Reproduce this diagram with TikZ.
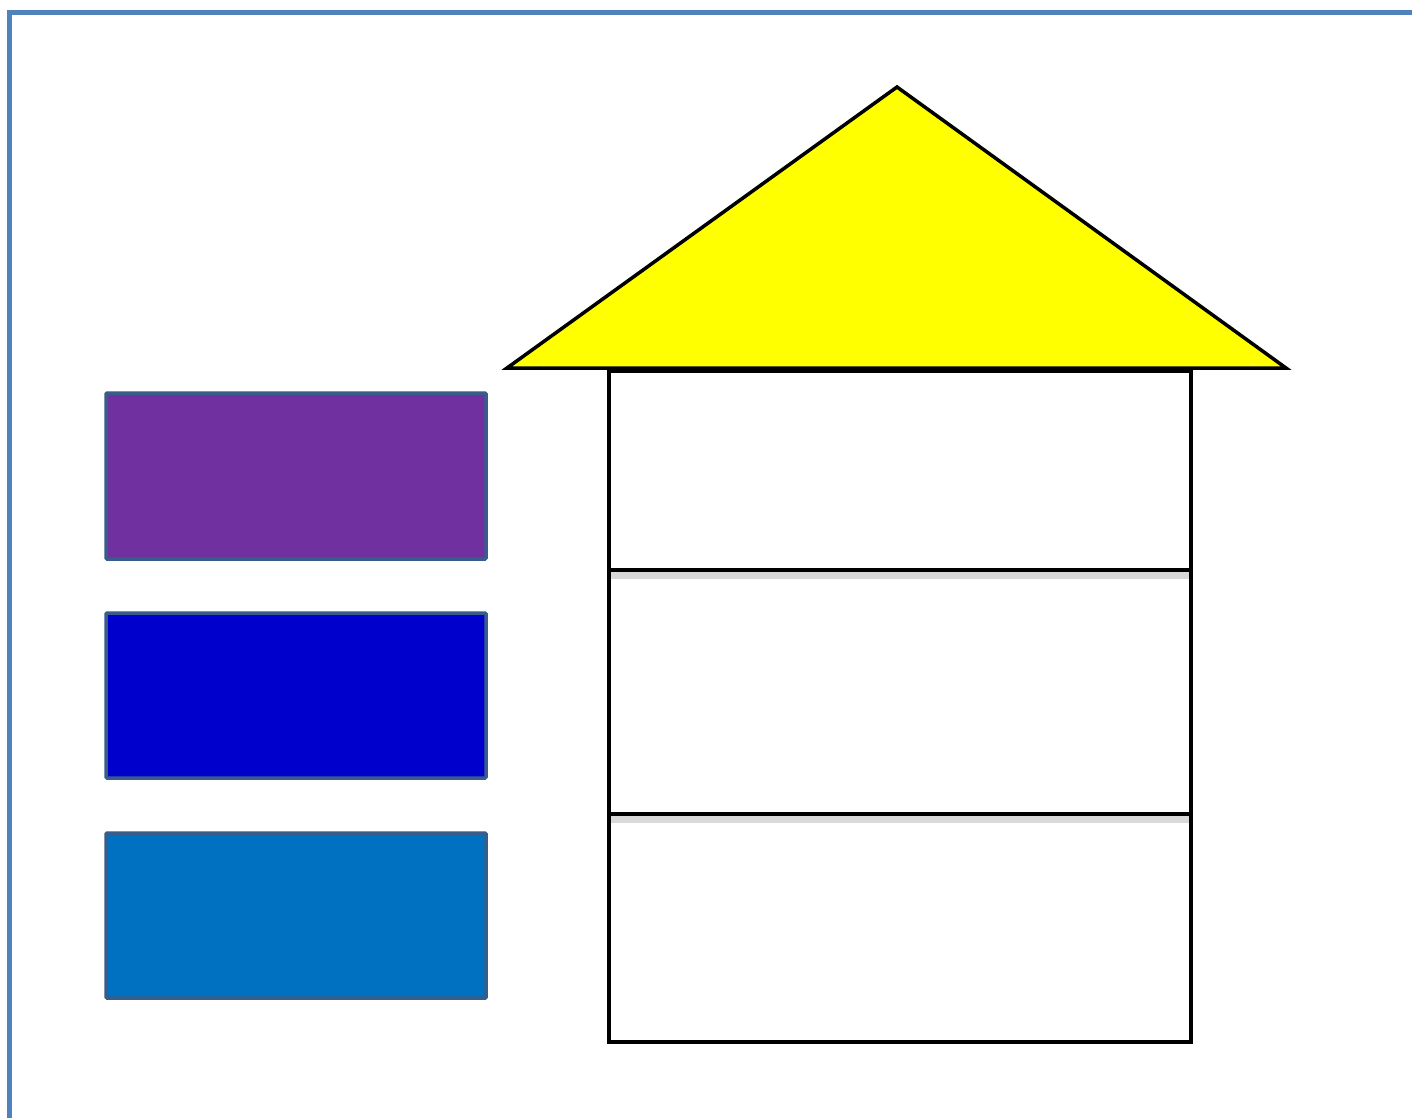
\documentclass[tikz,border=0pt]{standalone}
\begin{document}
\begin{tikzpicture}[x=1pt,y=-1pt,
  frame/.style={draw=frameblue,line width=5pt},
  roof/.style={draw=black,line width=3.5pt,fill=roofyellow,line join=miter},
  wall/.style={draw=black,line width=4.5pt},
  divider/.style={draw=black,line width=4.5pt},
  shadow/.style={draw=black!15,line width=7pt},
  card/.style={draw=cardedge,line width=3.5pt,rounded corners=1pt}]
\definecolor{frameblue}{HTML}{4F81BD}
\definecolor{cardedge}{HTML}{385D8A}
\definecolor{cpurple}{HTML}{7030A0}
\definecolor{cblue}{HTML}{0000CC}
\definecolor{clight}{HTML}{0070C0}
\definecolor{roofyellow}{HTML}{FFFF00}
\useasboundingbox (0,0) rectangle (1412,1117);
\fill[white] (0,0) rectangle (1412,1117);
% outer frame
\draw[frame] (9.5,1120) -- (9.5,12) -- (1415,12);
% roof
\draw[roof] (897,87) -- (1286,368) -- (507,368) -- cycle;
% house body
\coordinate (htl) at (609,371);
\coordinate (hbr) at (1191,1042);
\draw[shadow] (611,575) -- (1189,575);
\draw[shadow] (611,819) -- (1189,819);
\draw[wall] (htl) rectangle (hbr);
\draw[divider] (609,570) -- (1191,570);
\draw[divider] (609,814) -- (1191,814);
% cards
\node[card,fill=cpurple,minimum width=380pt,minimum height=166pt,inner sep=0pt] (c1) at (296,476) {};
\node[card,fill=cblue,minimum width=380pt,minimum height=165pt,inner sep=0pt] (c2) at (296,695.5) {};
\node[card,fill=clight,minimum width=380pt,minimum height=165pt,inner sep=0pt] (c3) at (296,915.5) {};
\end{tikzpicture}
\end{document}
